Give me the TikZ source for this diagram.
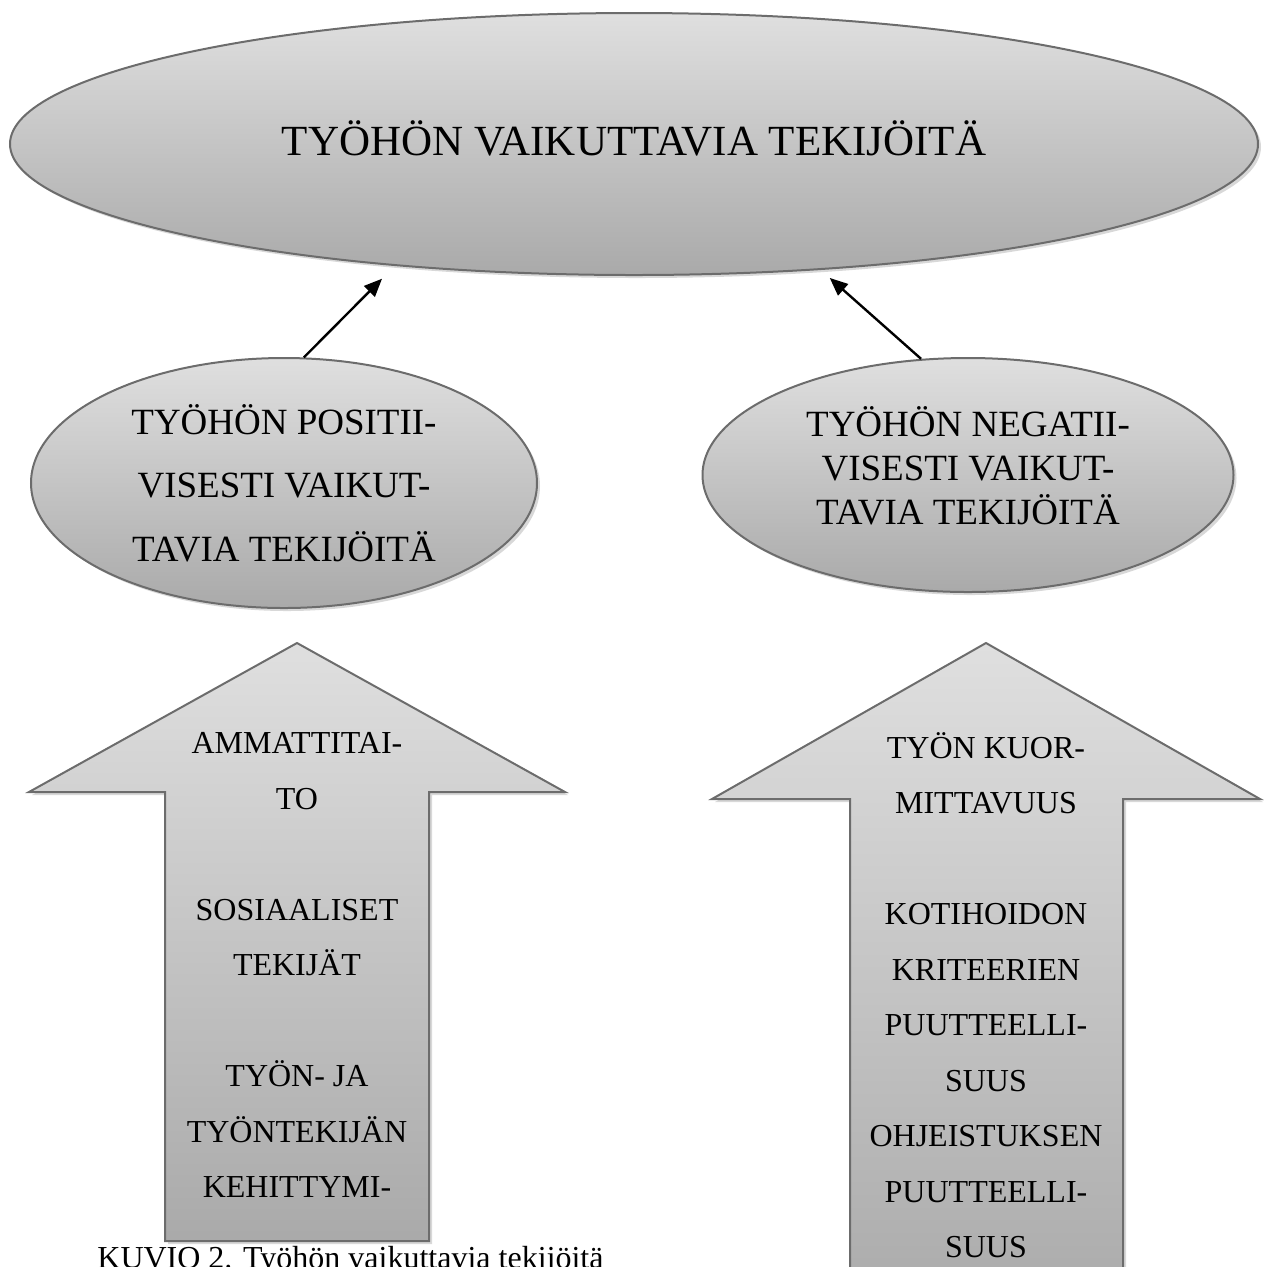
\documentclass[tikz,border=0pt]{standalone}
\usepackage{fontspec}
\setmainfont{Liberation Serif}
\usetikzlibrary{shapes.geometric,shadows,arrows.meta}

\begin{document}
\begin{tikzpicture}[x=0.5pt,y=-0.5pt,>={Triangle[length=9pt,width=7.5pt]},
  bubble/.style={ellipse,draw=gray!85!black,line width=1pt,top color=gray!25,bottom color=gray!67,inner sep=0pt,align=center,drop shadow={shadow xshift=1.5pt,shadow yshift=-1.5pt,fill=black!30}},
  bigarrow/.style={draw=gray!85!black,line width=1pt,top color=gray!25,bottom color=gray!67,drop shadow={shadow xshift=1.5pt,shadow yshift=-1.5pt,fill=black!30}},
  words/.style={inner sep=0pt,align=center,font=\fontsize{16}{27.75}\selectfont}]
  \useasboundingbox (0,0) rectangle (1270,1266);
  \clip (0,0) rectangle (1270,1266);

  \node[bubble,minimum width=624pt,minimum height=131pt,text depth=6pt,font=\fontsize{21.5}{25}\selectfont] (top) at (634,144) {TYÖHÖN VAIKUTTAVIA TEKIJÖITÄ};
  \node[bubble,minimum width=253pt,minimum height=125pt,font=\fontsize{18.5}{31.75}\selectfont] (pos) at (284,483) {TYÖHÖN POSITII-\\VISESTI VAIKUT-\\TAVIA TEKIJÖITÄ};
  \node[bubble,minimum width=265.5pt,minimum height=117pt,text depth=10pt,font=\fontsize{18.5}{22}\selectfont] (neg) at (968,475) {TYÖHÖN NEGATII-\\VISESTI VAIKUT-\\TAVIA TEKIJÖITÄ};

  \draw[->,very thick,shorten >=9pt] (pos.81) -- (top.207.3);
  \draw[->,very thick,shorten >=6pt] (neg.112) -- (top.326.4);

  % the two big arrows
  \draw[bigarrow] (297,643) -- (565,792) -- (429,792) -- (429,1241) -- (165,1241) -- (165,792) -- (29,792) -- cycle;
  \draw[bigarrow] (986,643) -- (1260,799) -- (1123,799) -- (1123,1320) -- (850,1320) -- (850,799) -- (712,799) -- cycle;

  \node[words,anchor=north] (posl) at (297,732) {AMMATTITAI-\\TO\\[27.75pt]SOSIAALISET\\TEKIJÄT\\[27.75pt]TYÖN- JA\\TYÖNTEKIJÄN\\KEHITTYMI-};
  \node[words,anchor=north] (negl) at (986,732) {TYÖN KUOR-\\MITTAVUUS\\[27.75pt]KOTIHOIDON\\KRITEERIEN\\PUUTTEELLI-\\SUUS\\OHJEISTUKSEN\\PUUTTEELLI-\\SUUS};

  \node[anchor=base west,inner sep=0pt,font=\fontsize{16}{19}\selectfont] (cap) at (97,1268) {KUVIO 2. Työhön vaikuttavia tekijöitä};
\end{tikzpicture}
\end{document}
